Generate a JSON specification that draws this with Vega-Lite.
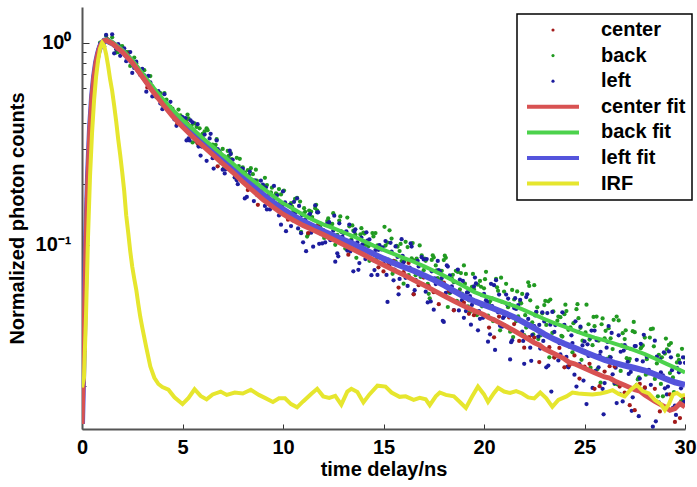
{
"$schema": "https://vega.github.io/schema/vega-lite/v6.json",
"width": 603, "height": 422, "autosize": {"type": "none"},
"padding": {"left": 82, "top": 7, "right": 12, "bottom": 58},
"background": "white",
"config": {"view": {"stroke": null},
 "axis": {"labelFont": "Liberation Sans", "labelFontWeight": "bold", "labelFontSize": 20, "labelColor": "#000", "titleFont": "Liberation Sans", "titleFontWeight": "bold", "titleFontSize": 20, "titleColor": "#000", "grid": false, "domainColor": "#555", "domainWidth": 2, "tickColor": "#333", "tickWidth": 1, "labelFlush": false, "labelOverlap": false, "labelBound": false}},
"datasets": {
"back": [{"t":0.1,"v":0.036},{"t":0.3,"v":0.21},{"t":0.5,"v":0.555},{"t":0.7,"v":0.79},{"t":0.9,"v":1.003},{"t":1.1,"v":1.002},{"t":1.3,"v":1.04},{"t":1.5,"v":1.066},{"t":1.7,"v":0.897},{"t":1.9,"v":0.963},{"t":2.1,"v":0.894},{"t":2.3,"v":0.901},{"t":2.5,"v":0.781},{"t":2.7,"v":0.792},{"t":2.9,"v":0.705},{"t":3.1,"v":0.733},{"t":3.3,"v":0.639},{"t":3.5,"v":0.61},{"t":3.7,"v":0.538},{"t":3.9,"v":0.565},{"t":4.1,"v":0.565},{"t":4.3,"v":0.478},{"t":4.5,"v":0.473},{"t":4.7,"v":0.422},{"t":4.9,"v":0.438},{"t":5.1,"v":0.406},{"t":5.3,"v":0.423},{"t":5.5,"v":0.322},{"t":5.7,"v":0.384},{"t":5.9,"v":0.332},{"t":6.1,"v":0.365},{"t":6.3,"v":0.3},{"t":6.5,"v":0.314},{"t":6.7,"v":0.334},{"t":6.9,"v":0.255},{"t":7.1,"v":0.274},{"t":7.3,"v":0.276},{"t":7.5,"v":0.245},{"t":7.7,"v":0.27},{"t":7.9,"v":0.215},{"t":8.1,"v":0.229},{"t":8.3,"v":0.191},{"t":8.5,"v":0.224},{"t":8.7,"v":0.208},{"t":8.9,"v":0.186},{"t":9.1,"v":0.215},{"t":9.3,"v":0.178},{"t":9.5,"v":0.158},{"t":9.7,"v":0.178},{"t":9.9,"v":0.178},{"t":10.1,"v":0.143},{"t":10.3,"v":0.157},{"t":10.5,"v":0.146},{"t":10.7,"v":0.171},{"t":10.9,"v":0.116},{"t":11.1,"v":0.146},{"t":11.3,"v":0.148},{"t":11.5,"v":0.123},{"t":11.7,"v":0.148},{"t":11.9,"v":0.127},{"t":12.1,"v":0.1093},{"t":12.3,"v":0.1262},{"t":12.5,"v":0.1436},{"t":12.7,"v":0.1123},{"t":12.9,"v":0.1167},{"t":13.1,"v":0.096},{"t":13.3,"v":0.1236},{"t":13.5,"v":0.1177},{"t":13.7,"v":0.0985},{"t":13.9,"v":0.121},{"t":14.1,"v":0.1002},{"t":14.3,"v":0.0835},{"t":14.5,"v":0.1102},{"t":14.7,"v":0.0995},{"t":14.9,"v":0.086},{"t":15.1,"v":0.0993},{"t":15.3,"v":0.1182},{"t":15.5,"v":0.0741},{"t":15.7,"v":0.0981},{"t":15.9,"v":0.0832},{"t":16.1,"v":0.1036},{"t":16.3,"v":0.0753},{"t":16.5,"v":0.0838},{"t":16.7,"v":0.0652},{"t":16.9,"v":0.0888},{"t":17.1,"v":0.0835},{"t":17.3,"v":0.0544},{"t":17.5,"v":0.0868},{"t":17.7,"v":0.0685},{"t":17.9,"v":0.0745},{"t":18.1,"v":0.0864},{"t":18.3,"v":0.0578},{"t":18.5,"v":0.0654},{"t":18.7,"v":0.0735},{"t":18.9,"v":0.0575},{"t":19.1,"v":0.0719},{"t":19.3,"v":0.0466},{"t":19.5,"v":0.0604},{"t":19.7,"v":0.0636},{"t":19.9,"v":0.0497},{"t":20.1,"v":0.0736},{"t":20.3,"v":0.0527},{"t":20.5,"v":0.0427},{"t":20.7,"v":0.0593},{"t":20.9,"v":0.0523},{"t":21.1,"v":0.0642},{"t":21.3,"v":0.0372},{"t":21.5,"v":0.0537},{"t":21.7,"v":0.0443},{"t":21.9,"v":0.0572},{"t":22.1,"v":0.039},{"t":22.3,"v":0.0532},{"t":22.5,"v":0.0632},{"t":22.7,"v":0.0342},{"t":22.9,"v":0.0459},{"t":23.1,"v":0.0402},{"t":23.3,"v":0.0537},{"t":23.5,"v":0.0278},{"t":23.7,"v":0.0442},{"t":23.9,"v":0.0352},{"t":24.1,"v":0.0471},{"t":24.3,"v":0.0391},{"t":24.5,"v":0.0305},{"t":24.7,"v":0.0434},{"t":24.9,"v":0.0336},{"t":25.1,"v":0.0506},{"t":25.3,"v":0.0247},{"t":25.5,"v":0.0396},{"t":25.7,"v":0.0336},{"t":25.9,"v":0.0433},{"t":26.1,"v":0.0273},{"t":26.3,"v":0.0345},{"t":26.5,"v":0.0205},{"t":26.7,"v":0.0423},{"t":26.9,"v":0.0366},{"t":27.1,"v":0.0275},{"t":27.3,"v":0.0306},{"t":27.5,"v":0.037},{"t":27.7,"v":0.0221},{"t":27.9,"v":0.0318},{"t":28.1,"v":0.0272},{"t":28.3,"v":0.0383},{"t":28.5,"v":0.0217},{"t":28.7,"v":0.0286},{"t":28.9,"v":0.0178},{"t":29.1,"v":0.0304},{"t":29.3,"v":0.0327},{"t":29.5,"v":0.0207},{"t":29.7,"v":0.027},{"t":29.9,"v":0.0172},
{"t":0.2,"v":0.11},{"t":0.4,"v":0.37},{"t":0.6,"v":0.69},{"t":0.8,"v":0.855},{"t":1.0,"v":1.006},{"t":1.2,"v":1.087},{"t":1.4,"v":0.996},{"t":1.6,"v":0.99},{"t":1.8,"v":0.902},{"t":2.0,"v":0.965},{"t":2.2,"v":0.9},{"t":2.4,"v":0.77},{"t":2.6,"v":0.847},{"t":2.8,"v":0.745},{"t":3.0,"v":0.733},{"t":3.2,"v":0.638},{"t":3.4,"v":0.686},{"t":3.6,"v":0.579},{"t":3.8,"v":0.57},{"t":4.0,"v":0.494},{"t":4.2,"v":0.525},{"t":4.4,"v":0.482},{"t":4.6,"v":0.443},{"t":4.8,"v":0.468},{"t":5.0,"v":0.396},{"t":5.2,"v":0.416},{"t":5.4,"v":0.375},{"t":5.6,"v":0.4},{"t":5.8,"v":0.311},{"t":6.0,"v":0.355},{"t":6.2,"v":0.378},{"t":6.4,"v":0.295},{"t":6.6,"v":0.306},{"t":6.8,"v":0.262},{"t":7.0,"v":0.299},{"t":7.2,"v":0.266},{"t":7.4,"v":0.285},{"t":7.6,"v":0.216},{"t":7.8,"v":0.246},{"t":8.0,"v":0.242},{"t":8.2,"v":0.207},{"t":8.4,"v":0.24},{"t":8.6,"v":0.198},{"t":8.8,"v":0.198},{"t":9.0,"v":0.171},{"t":9.2,"v":0.198},{"t":9.4,"v":0.182},{"t":9.6,"v":0.16},{"t":9.8,"v":0.189},{"t":10.0,"v":0.158},{"t":10.2,"v":0.138},{"t":10.4,"v":0.161},{"t":10.6,"v":0.169},{"t":10.8,"v":0.135},{"t":11.0,"v":0.143},{"t":11.2,"v":0.11},{"t":11.4,"v":0.1463},{"t":11.6,"v":0.152},{"t":11.8,"v":0.125},{"t":12.0,"v":0.1126},{"t":12.2,"v":0.1313},{"t":12.4,"v":0.1243},{"t":12.6,"v":0.1001},{"t":12.8,"v":0.132},{"t":13.0,"v":0.1067},{"t":13.2,"v":0.1366},{"t":13.4,"v":0.1065},{"t":13.6,"v":0.1128},{"t":13.8,"v":0.0928},{"t":14.0,"v":0.115},{"t":14.2,"v":0.102},{"t":14.4,"v":0.0915},{"t":14.6,"v":0.1146},{"t":14.8,"v":0.0954},{"t":15.0,"v":0.08},{"t":15.2,"v":0.1027},{"t":15.4,"v":0.1076},{"t":15.6,"v":0.0829},{"t":15.8,"v":0.0933},{"t":16.0,"v":0.0643},{"t":16.2,"v":0.0976},{"t":16.4,"v":0.0859},{"t":16.6,"v":0.0708},{"t":16.8,"v":0.0994},{"t":17.0,"v":0.075},{"t":17.2,"v":0.0642},{"t":17.4,"v":0.0843},{"t":17.6,"v":0.0792},{"t":17.8,"v":0.0656},{"t":18.0,"v":0.0842},{"t":18.2,"v":0.0493},{"t":18.4,"v":0.0682},{"t":18.6,"v":0.0745},{"t":18.8,"v":0.0602},{"t":19.0,"v":0.0792},{"t":19.2,"v":0.0496},{"t":19.4,"v":0.0621},{"t":19.6,"v":0.052},{"t":19.8,"v":0.0664},{"t":20.0,"v":0.061},{"t":20.2,"v":0.0447},{"t":20.4,"v":0.0544},{"t":20.6,"v":0.0679},{"t":20.8,"v":0.0378},{"t":21.0,"v":0.0588},{"t":21.2,"v":0.0492},{"t":21.4,"v":0.0599},{"t":21.6,"v":0.042},{"t":21.8,"v":0.0523},{"t":22.0,"v":0.0358},{"t":22.2,"v":0.0653},{"t":22.4,"v":0.0414},{"t":22.6,"v":0.0465},{"t":22.8,"v":0.0356},{"t":23.0,"v":0.0504},{"t":23.2,"v":0.0526},{"t":23.4,"v":0.0367},{"t":23.6,"v":0.0283},{"t":23.8,"v":0.0439},{"t":24.0,"v":0.0454},{"t":24.2,"v":0.038},{"t":24.4,"v":0.0294},{"t":24.6,"v":0.0481},{"t":24.8,"v":0.0389},{"t":25.0,"v":0.0299},{"t":25.2,"v":0.0405},{"t":25.4,"v":0.0319},{"t":25.6,"v":0.0442},{"t":25.8,"v":0.0208},{"t":26.0,"v":0.0345},{"t":26.2,"v":0.0387},{"t":26.4,"v":0.0305},{"t":26.6,"v":0.0442},{"t":26.8,"v":0.0238},{"t":27.0,"v":0.0342},{"t":27.2,"v":0.0266},{"t":27.4,"v":0.0374},{"t":27.6,"v":0.0203},{"t":27.8,"v":0.0308},{"t":28.0,"v":0.0348},{"t":28.2,"v":0.0231},{"t":28.4,"v":0.0385},{"t":28.6,"v":0.0259},{"t":28.8,"v":0.0205},{"t":29.0,"v":0.029},{"t":29.2,"v":0.032},{"t":29.4,"v":0.0221},{"t":29.6,"v":0.0262},{"t":29.8,"v":0.0168},{"t":30.0,"v":0.0277},
{"t":5.05,"v":0.397},{"t":5.25,"v":0.442},{"t":5.45,"v":0.39},{"t":5.65,"v":0.327},{"t":5.85,"v":0.378},{"t":6.05,"v":0.331},{"t":6.25,"v":0.37},{"t":6.45,"v":0.288},{"t":6.65,"v":0.313},{"t":6.85,"v":0.29},{"t":7.05,"v":0.239},{"t":7.25,"v":0.292},{"t":7.45,"v":0.266},{"t":7.65,"v":0.234},{"t":7.85,"v":0.267},{"t":8.05,"v":0.207},{"t":8.25,"v":0.235},{"t":8.45,"v":0.21},{"t":8.65,"v":0.236},{"t":8.85,"v":0.184},{"t":9.05,"v":0.196},{"t":9.25,"v":0.161},{"t":9.45,"v":0.192},{"t":9.65,"v":0.18},{"t":9.85,"v":0.161},{"t":10.05,"v":0.186},{"t":10.25,"v":0.138},{"t":10.45,"v":0.155},{"t":10.65,"v":0.136},{"t":10.85,"v":0.164},{"t":11.05,"v":0.152},{"t":11.25,"v":0.113},{"t":11.45,"v":0.1375},{"t":11.65,"v":0.158},{"t":11.85,"v":0.1222},{"t":12.05,"v":0.1084},{"t":12.25,"v":0.1354},{"t":12.45,"v":0.127},{"t":12.65,"v":0.1067},{"t":12.85,"v":0.1385},{"t":13.05,"v":0.1143},{"t":13.25,"v":0.1043},{"t":13.45,"v":0.1249},{"t":13.65,"v":0.0864},{"t":13.85,"v":0.1128},{"t":14.05,"v":0.1139},{"t":14.25,"v":0.0986},{"t":14.45,"v":0.1146},{"t":14.65,"v":0.0854},{"t":14.85,"v":0.0965},{"t":15.05,"v":0.123},{"t":15.25,"v":0.0845},{"t":15.45,"v":0.072},{"t":15.65,"v":0.099},{"t":15.85,"v":0.1012},{"t":16.05,"v":0.0837},{"t":16.25,"v":0.0709},{"t":16.45,"v":0.1022},{"t":16.65,"v":0.0855},{"t":16.85,"v":0.0694},{"t":17.05,"v":0.0856},{"t":17.25,"v":0.0573},{"t":17.45,"v":0.0889},{"t":17.65,"v":0.0748},{"t":17.85,"v":0.0667},{"t":18.05,"v":0.0885},{"t":18.25,"v":0.0586},{"t":18.45,"v":0.0712},{"t":18.65,"v":0.0528},{"t":18.85,"v":0.0726},{"t":19.05,"v":0.0643},{"t":19.25,"v":0.0532},{"t":19.45,"v":0.0719},{"t":19.65,"v":0.045},{"t":19.85,"v":0.0621},{"t":20.05,"v":0.0677},{"t":20.25,"v":0.051},{"t":20.45,"v":0.042},{"t":20.65,"v":0.0617},{"t":20.85,"v":0.0689},{"t":21.05,"v":0.045},{"t":21.25,"v":0.0511},{"t":21.45,"v":0.035},{"t":21.65,"v":0.0589},{"t":21.85,"v":0.0514},{"t":22.05,"v":0.0449},{"t":22.25,"v":0.0627},{"t":22.45,"v":0.0361},{"t":22.65,"v":0.0491},{"t":22.85,"v":0.0364},{"t":23.05,"v":0.0528},{"t":23.25,"v":0.0278},{"t":23.45,"v":0.0469},{"t":23.65,"v":0.0422},{"t":23.85,"v":0.0355},{"t":24.05,"v":0.0506},{"t":24.25,"v":0.0313},{"t":24.45,"v":0.041},{"t":24.65,"v":0.0509},{"t":24.85,"v":0.027},{"t":25.05,"v":0.0369},{"t":25.25,"v":0.034},{"t":25.45,"v":0.044},{"t":25.65,"v":0.0243},{"t":25.85,"v":0.0405},{"t":26.05,"v":0.0376},{"t":26.25,"v":0.0279},{"t":26.45,"v":0.0426},{"t":26.65,"v":0.0204},{"t":26.85,"v":0.0318},{"t":27.05,"v":0.0378},{"t":27.25,"v":0.0273},{"t":27.45,"v":0.0416},{"t":27.65,"v":0.0216},{"t":27.85,"v":0.0314},{"t":28.05,"v":0.0228},{"t":28.25,"v":0.0348},{"t":28.45,"v":0.0315},{"t":28.65,"v":0.0178},{"t":28.85,"v":0.0278},{"t":29.05,"v":0.0344},{"t":29.25,"v":0.0232},{"t":29.45,"v":0.0187},{"t":29.65,"v":0.0284},{"t":29.85,"v":0.0306}],
"left": [{"t":0,"v":0.0135},{"t":0.2,"v":0.11},{"t":0.4,"v":0.355},{"t":0.6,"v":0.685},{"t":0.8,"v":0.922},{"t":1.0,"v":0.968},{"t":1.2,"v":1.096},{"t":1.4,"v":1.006},{"t":1.6,"v":0.889},{"t":1.8,"v":0.987},{"t":2.0,"v":0.928},{"t":2.2,"v":0.812},{"t":2.4,"v":0.901},{"t":2.6,"v":0.752},{"t":2.8,"v":0.736},{"t":3.0,"v":0.744},{"t":3.2,"v":0.574},{"t":3.4,"v":0.638},{"t":3.6,"v":0.563},{"t":3.8,"v":0.577},{"t":4.0,"v":0.47},{"t":4.2,"v":0.498},{"t":4.4,"v":0.511},{"t":4.6,"v":0.418},{"t":4.8,"v":0.413},{"t":5.0,"v":0.43},{"t":5.2,"v":0.329},{"t":5.4,"v":0.414},{"t":5.6,"v":0.355},{"t":5.8,"v":0.307},{"t":6.0,"v":0.339},{"t":6.2,"v":0.261},{"t":6.4,"v":0.355},{"t":6.6,"v":0.276},{"t":6.8,"v":0.293},{"t":7.0,"v":0.236},{"t":7.2,"v":0.26},{"t":7.4,"v":0.282},{"t":7.6,"v":0.216},{"t":7.8,"v":0.219},{"t":8.0,"v":0.238},{"t":8.2,"v":0.173},{"t":8.4,"v":0.208},{"t":8.6,"v":0.209},{"t":8.8,"v":0.176},{"t":9.0,"v":0.199},{"t":9.2,"v":0.15},{"t":9.4,"v":0.166},{"t":9.6,"v":0.171},{"t":9.8,"v":0.14},{"t":10.0,"v":0.184},{"t":10.2,"v":0.142},{"t":10.4,"v":0.124},{"t":10.6,"v":0.144},{"t":10.8,"v":0.156},{"t":11.0,"v":0.103},{"t":11.2,"v":0.137},{"t":11.4,"v":0.115},{"t":11.6,"v":0.157},{"t":11.8,"v":0.1013},{"t":12.0,"v":0.1186},{"t":12.2,"v":0.1277},{"t":12.4,"v":0.1063},{"t":12.6,"v":0.0826},{"t":12.8,"v":0.1279},{"t":13.0,"v":0.1149},{"t":13.2,"v":0.0938},{"t":13.4,"v":0.1049},{"t":13.6,"v":0.1195},{"t":13.8,"v":0.0813},{"t":14.0,"v":0.0942},{"t":14.2,"v":0.1052},{"t":14.4,"v":0.0709},{"t":14.6,"v":0.0944},{"t":14.8,"v":0.0998},{"t":15.0,"v":0.081},{"t":15.2,"v":0.0522},{"t":15.4,"v":0.0927},{"t":15.6,"v":0.0983},{"t":15.8,"v":0.0679},{"t":16.0,"v":0.082},{"t":16.2,"v":0.0627},{"t":16.4,"v":0.0982},{"t":16.6,"v":0.0672},{"t":16.8,"v":0.0723},{"t":17.0,"v":0.0848},{"t":17.2,"v":0.0519},{"t":17.4,"v":0.074},{"t":17.6,"v":0.064},{"t":17.8,"v":0.0741},{"t":18.0,"v":0.0416},{"t":18.2,"v":0.0782},{"t":18.4,"v":0.0623},{"t":18.6,"v":0.0523},{"t":18.8,"v":0.0674},{"t":19.0,"v":0.0436},{"t":19.2,"v":0.0584},{"t":19.4,"v":0.0505},{"t":19.6,"v":0.0645},{"t":19.8,"v":0.0431},{"t":20.0,"v":0.0572},{"t":20.2,"v":0.0332},{"t":20.4,"v":0.0498},{"t":20.6,"v":0.0669},{"t":20.8,"v":0.0398},{"t":21.0,"v":0.0442},{"t":21.2,"v":0.0543},{"t":21.4,"v":0.0337},{"t":21.6,"v":0.0482},{"t":21.8,"v":0.0535},{"t":22.0,"v":0.0258},{"t":22.2,"v":0.043},{"t":22.4,"v":0.0358},{"t":22.6,"v":0.0467},{"t":22.8,"v":0.0307},{"t":23.0,"v":0.0418},{"t":23.2,"v":0.0253},{"t":23.4,"v":0.0466},{"t":23.6,"v":0.0338},{"t":23.8,"v":0.0287},{"t":24.0,"v":0.0402},{"t":24.2,"v":0.0248},{"t":24.4,"v":0.0327},{"t":24.6,"v":0.0199},{"t":24.8,"v":0.0394},{"t":25.0,"v":0.0333},{"t":25.2,"v":0.0282},{"t":25.4,"v":0.0196},{"t":25.6,"v":0.0338},{"t":25.8,"v":0.0296},{"t":26.0,"v":0.0207},{"t":26.2,"v":0.0397},{"t":26.4,"v":0.0229},{"t":26.6,"v":0.0165},{"t":26.8,"v":0.0296},{"t":27.0,"v":0.0319},{"t":27.2,"v":0.023},{"t":27.4,"v":0.0176},{"t":27.6,"v":0.027},{"t":27.8,"v":0.0324},{"t":28.0,"v":0.0196},{"t":28.2,"v":0.0241},{"t":28.4,"v":0.0126},{"t":28.6,"v":0.028},{"t":28.8,"v":0.0234},{"t":29.0,"v":0.0195},{"t":29.2,"v":0.0297},{"t":29.4,"v":0.0156},{"t":29.6,"v":0.0246},{"t":29.8,"v":0.0195},{"t":30.0,"v":0.0261},
{"t":0.1,"v":0.036},{"t":0.3,"v":0.21},{"t":0.5,"v":0.566},{"t":0.7,"v":0.794},{"t":0.9,"v":0.987},{"t":1.1,"v":0.964},{"t":1.3,"v":1.024},{"t":1.5,"v":1.104},{"t":1.7,"v":0.93},{"t":1.9,"v":0.864},{"t":2.1,"v":0.941},{"t":2.3,"v":0.864},{"t":2.5,"v":0.711},{"t":2.7,"v":0.808},{"t":2.9,"v":0.694},{"t":3.1,"v":0.692},{"t":3.3,"v":0.687},{"t":3.5,"v":0.544},{"t":3.7,"v":0.558},{"t":3.9,"v":0.502},{"t":4.1,"v":0.558},{"t":4.3,"v":0.463},{"t":4.5,"v":0.465},{"t":4.7,"v":0.389},{"t":4.9,"v":0.429},{"t":5.1,"v":0.398},{"t":5.3,"v":0.337},{"t":5.5,"v":0.405},{"t":5.7,"v":0.327},{"t":5.9,"v":0.277},{"t":6.1,"v":0.352},{"t":6.3,"v":0.316},{"t":6.5,"v":0.269},{"t":6.7,"v":0.329},{"t":6.9,"v":0.267},{"t":7.1,"v":0.226},{"t":7.3,"v":0.265},{"t":7.5,"v":0.264},{"t":7.7,"v":0.209},{"t":7.9,"v":0.228},{"t":8.1,"v":0.17},{"t":8.3,"v":0.222},{"t":8.5,"v":0.198},{"t":8.7,"v":0.177},{"t":8.9,"v":0.208},{"t":9.1,"v":0.156},{"t":9.3,"v":0.177},{"t":9.5,"v":0.16},{"t":9.7,"v":0.176},{"t":9.9,"v":0.126},{"t":10.1,"v":0.1625},{"t":10.3,"v":0.144},{"t":10.5,"v":0.1322},{"t":10.7,"v":0.1703},{"t":10.9,"v":0.1144},{"t":11.1,"v":0.1331},{"t":11.3,"v":0.1409},{"t":11.5,"v":0.098},{"t":11.7,"v":0.145},{"t":11.9,"v":0.1134},{"t":12.1,"v":0.1029},{"t":12.3,"v":0.1296},{"t":12.5,"v":0.1177},{"t":12.7,"v":0.0909},{"t":12.9,"v":0.1161},{"t":13.1,"v":0.1035},{"t":13.3,"v":0.1261},{"t":13.5,"v":0.0741},{"t":13.7,"v":0.1029},{"t":13.9,"v":0.1088},{"t":14.1,"v":0.0851},{"t":14.3,"v":0.1065},{"t":14.5,"v":0.084},{"t":14.7,"v":0.0711},{"t":14.9,"v":0.095},{"t":15.1,"v":0.1046},{"t":15.3,"v":0.0801},{"t":15.5,"v":0.0668},{"t":15.7,"v":0.0872},{"t":15.9,"v":0.1068},{"t":16.1,"v":0.0688},{"t":16.3,"v":0.0772},{"t":16.5,"v":0.0571},{"t":16.7,"v":0.0835},{"t":16.9,"v":0.087},{"t":17.1,"v":0.0587},{"t":17.3,"v":0.0686},{"t":17.5,"v":0.0478},{"t":17.7,"v":0.0833},{"t":17.9,"v":0.0686},{"t":18.1,"v":0.0579},{"t":18.3,"v":0.0707},{"t":18.5,"v":0.0476},{"t":18.7,"v":0.0755},{"t":18.9,"v":0.0533},{"t":19.1,"v":0.0471},{"t":19.3,"v":0.0558},{"t":19.5,"v":0.0623},{"t":19.7,"v":0.0378},{"t":19.9,"v":0.0564},{"t":20.1,"v":0.0533},{"t":20.3,"v":0.0361},{"t":20.5,"v":0.0632},{"t":20.7,"v":0.0464},{"t":20.9,"v":0.0394},{"t":21.1,"v":0.0568},{"t":21.3,"v":0.0271},{"t":21.5,"v":0.0487},{"t":21.7,"v":0.0503},{"t":21.9,"v":0.0372},{"t":22.1,"v":0.0552},{"t":22.3,"v":0.031},{"t":22.5,"v":0.0397},{"t":22.7,"v":0.0352},{"t":22.9,"v":0.0464},{"t":23.1,"v":0.0248},{"t":23.3,"v":0.0403},{"t":23.5,"v":0.0371},{"t":23.7,"v":0.0268},{"t":23.9,"v":0.0464},{"t":24.1,"v":0.0279},{"t":24.3,"v":0.0315},{"t":24.5,"v":0.0228},{"t":24.7,"v":0.0371},{"t":24.9,"v":0.0318},{"t":25.1,"v":0.0163},{"t":25.3,"v":0.0347},{"t":25.5,"v":0.0377},{"t":25.7,"v":0.0248},{"t":25.9,"v":0.0194},{"t":26.1,"v":0.031},{"t":26.3,"v":0.0278},{"t":26.5,"v":0.0207},{"t":26.7,"v":0.0357},{"t":26.9,"v":0.0168},{"t":27.1,"v":0.031},{"t":27.3,"v":0.0235},{"t":27.5,"v":0.0316},{"t":27.7,"v":0.0142},{"t":27.9,"v":0.0265},{"t":28.1,"v":0.028},{"t":28.3,"v":0.0203},{"t":28.5,"v":0.0336},{"t":28.7,"v":0.0166},{"t":28.9,"v":0.0226},{"t":29.1,"v":0.0182},{"t":29.3,"v":0.0278},{"t":29.5,"v":0.016},{"t":29.7,"v":0.0234},{"t":29.9,"v":0.0278},
{"t":5.15,"v":0.425},{"t":5.35,"v":0.329},{"t":5.55,"v":0.369},{"t":5.75,"v":0.396},{"t":5.95,"v":0.307},{"t":6.15,"v":0.314},{"t":6.35,"v":0.337},{"t":6.55,"v":0.239},{"t":6.75,"v":0.298},{"t":6.95,"v":0.275},{"t":7.15,"v":0.237},{"t":7.35,"v":0.293},{"t":7.55,"v":0.23},{"t":7.75,"v":0.2},{"t":7.95,"v":0.239},{"t":8.15,"v":0.212},{"t":8.35,"v":0.231},{"t":8.55,"v":0.165},{"t":8.75,"v":0.197},{"t":8.95,"v":0.176},{"t":9.15,"v":0.193},{"t":9.35,"v":0.15},{"t":9.55,"v":0.196},{"t":9.75,"v":0.148},{"t":9.95,"v":0.154},{"t":10.15,"v":0.117},{"t":10.35,"v":0.158},{"t":10.55,"v":0.1635},{"t":10.75,"v":0.1208},{"t":10.95,"v":0.1404},{"t":11.15,"v":0.0932},{"t":11.35,"v":0.1427},{"t":11.55,"v":0.1205},{"t":11.75,"v":0.145},{"t":11.95,"v":0.1018},{"t":12.15,"v":0.1256},{"t":12.35,"v":0.1057},{"t":12.55,"v":0.1396},{"t":12.75,"v":0.0879},{"t":12.95,"v":0.1101},{"t":13.15,"v":0.1168},{"t":13.35,"v":0.0929},{"t":13.55,"v":0.1166},{"t":13.75,"v":0.0753},{"t":13.95,"v":0.1007},{"t":14.15,"v":0.1155},{"t":14.35,"v":0.091},{"t":14.55,"v":0.0751},{"t":14.75,"v":0.0946},{"t":14.95,"v":0.0974},{"t":15.15,"v":0.0711},{"t":15.35,"v":0.1025},{"t":15.55,"v":0.0756},{"t":15.75,"v":0.057},{"t":15.95,"v":0.0884},{"t":16.15,"v":0.0771},{"t":16.35,"v":0.1017},{"t":16.55,"v":0.0597},{"t":16.75,"v":0.0783},{"t":16.95,"v":0.0638},{"t":17.15,"v":0.0852},{"t":17.35,"v":0.0525},{"t":17.55,"v":0.0684},{"t":17.75,"v":0.075},{"t":17.95,"v":0.0421},{"t":18.15,"v":0.0792},{"t":18.35,"v":0.0586},{"t":18.55,"v":0.0657},{"t":18.75,"v":0.0474},{"t":18.95,"v":0.0664},{"t":19.15,"v":0.058},{"t":19.35,"v":0.0403},{"t":19.55,"v":0.069},{"t":19.75,"v":0.0471},{"t":19.95,"v":0.0436},{"t":20.15,"v":0.0522},{"t":20.35,"v":0.0642},{"t":20.55,"v":0.0302},{"t":20.75,"v":0.0568},{"t":20.95,"v":0.0435},{"t":21.15,"v":0.0507},{"t":21.35,"v":0.033},{"t":21.55,"v":0.0545},{"t":21.75,"v":0.0428},{"t":21.95,"v":0.0335},{"t":22.15,"v":0.057},{"t":22.35,"v":0.0267},{"t":22.55,"v":0.0448},{"t":22.75,"v":0.0402},{"t":22.95,"v":0.0335},{"t":23.15,"v":0.046},{"t":23.35,"v":0.0188},{"t":23.55,"v":0.0401},{"t":23.75,"v":0.0327},{"t":23.95,"v":0.0399},{"t":24.15,"v":0.025},{"t":24.35,"v":0.0357},{"t":24.55,"v":0.0419},{"t":24.75,"v":0.0257},{"t":24.95,"v":0.0213},{"t":25.15,"v":0.0322},{"t":25.35,"v":0.0377},{"t":25.55,"v":0.0238},{"t":25.75,"v":0.0284},{"t":25.95,"v":0.0145},{"t":26.15,"v":0.0331},{"t":26.35,"v":0.0367},{"t":26.55,"v":0.0247},{"t":26.75,"v":0.0183},{"t":26.95,"v":0.03},{"t":27.15,"v":0.0264},{"t":27.35,"v":0.0151},{"t":27.55,"v":0.0316},{"t":27.75,"v":0.0218},{"t":27.95,"v":0.0359},{"t":28.15,"v":0.0182},{"t":28.35,"v":0.0233},{"t":28.55,"v":0.0134},{"t":28.75,"v":0.0271},{"t":28.95,"v":0.0294},{"t":29.15,"v":0.0199},{"t":29.35,"v":0.024},{"t":29.55,"v":0.0144},{"t":29.75,"v":0.0261},{"t":29.95,"v":0.0167}],
"center": [{"t":0.25,"v":0.17},{"t":0.75,"v":0.82},{"t":1.25,"v":1.044},{"t":1.75,"v":0.933},{"t":2.25,"v":0.885},{"t":2.75,"v":0.736},{"t":3.25,"v":0.602},{"t":3.75,"v":0.555},{"t":4.25,"v":0.468},{"t":4.75,"v":0.4},{"t":5.25,"v":0.399},{"t":5.75,"v":0.319},{"t":6.25,"v":0.304},{"t":6.75,"v":0.245},{"t":7.25,"v":0.244},{"t":7.75,"v":0.23},{"t":8.25,"v":0.187},{"t":8.75,"v":0.158},{"t":9.25,"v":0.173},{"t":9.75,"v":0.151},{"t":10.25,"v":0.1334},{"t":10.75,"v":0.1344},{"t":11.25,"v":0.1145},{"t":11.75,"v":0.126},{"t":12.25,"v":0.1088},{"t":12.75,"v":0.1072},{"t":13.25,"v":0.0895},{"t":13.75,"v":0.0923},{"t":14.25,"v":0.0927},{"t":14.75,"v":0.0775},{"t":15.25,"v":0.0804},{"t":15.75,"v":0.0615},{"t":16.25,"v":0.0815},{"t":16.75,"v":0.0632},{"t":17.25,"v":0.0626},{"t":17.75,"v":0.0509},{"t":18.25,"v":0.0593},{"t":18.75,"v":0.0585},{"t":19.25,"v":0.0456},{"t":19.75,"v":0.0462},{"t":20.25,"v":0.039},{"t":20.75,"v":0.0442},{"t":21.25,"v":0.0438},{"t":21.75,"v":0.0335},{"t":22.25,"v":0.035},{"t":22.75,"v":0.0263},{"t":23.25,"v":0.0312},{"t":23.75,"v":0.0309},{"t":24.25,"v":0.0254},{"t":24.75,"v":0.0218},{"t":25.25,"v":0.0258},{"t":25.75,"v":0.02},{"t":26.25,"v":0.0251},{"t":26.75,"v":0.0199},{"t":27.25,"v":0.0161},{"t":27.75,"v":0.0205},{"t":28.25,"v":0.0179},{"t":28.75,"v":0.015},{"t":29.25,"v":0.0182},{"t":29.75,"v":0.0139},{"t":15,"v":0.0739},{"t":15.5,"v":0.0835},{"t":16,"v":0.0733},{"t":16.5,"v":0.057},{"t":17,"v":0.069},{"t":17.5,"v":0.0584},{"t":18,"v":0.0651},{"t":18.5,"v":0.0475},{"t":19,"v":0.0518},{"t":19.5,"v":0.0449},{"t":20,"v":0.051},{"t":20.5,"v":0.0349},{"t":21,"v":0.0401},{"t":21.5,"v":0.0406},{"t":22,"v":0.031},{"t":22.5,"v":0.0348},{"t":23,"v":0.0358},{"t":23.5,"v":0.0277},{"t":24,"v":0.0248},{"t":24.5,"v":0.0284},{"t":25,"v":0.025},{"t":25.5,"v":0.0194},{"t":26,"v":0.0236},{"t":26.5,"v":0.025},{"t":27,"v":0.0186},{"t":27.5,"v":0.0152},{"t":28,"v":0.0197},{"t":28.5,"v":0.0194},{"t":29,"v":0.0156},{"t":29.5,"v":0.0133},{"t":30,"v":0.0176}],
"leftFit": [{"t":0,"v":0.013},{"t":0.1,"v":0.035},{"t":0.2,"v":0.1},{"t":0.3,"v":0.22},{"t":0.4,"v":0.38},{"t":0.5,"v":0.54},{"t":0.6,"v":0.68},{"t":0.7,"v":0.8},{"t":0.8,"v":0.89},{"t":0.9,"v":0.96},{"t":1.0,"v":1.0},{"t":1.1,"v":1.025},{"t":1.2,"v":1.03},{"t":1.5,"v":1.0},{"t":2,"v":0.91},{"t":2.5,"v":0.805},{"t":3,"v":0.69},{"t":3.5,"v":0.59},{"t":4,"v":0.51},{"t":4.5,"v":0.448},{"t":5,"v":0.398},{"t":5.5,"v":0.358},{"t":6,"v":0.323},{"t":6.5,"v":0.292},{"t":7,"v":0.265},{"t":7.5,"v":0.24},{"t":8,"v":0.216},{"t":8.5,"v":0.196},{"t":9,"v":0.178},{"t":9.5,"v":0.163},{"t":10,"v":0.15},{"t":10.5,"v":0.14},{"t":11,"v":0.131},{"t":11.5,"v":0.124},{"t":12,"v":0.117},{"t":12.5,"v":0.1115},{"t":13,"v":0.106},{"t":13.5,"v":0.101},{"t":14,"v":0.0955},{"t":14.5,"v":0.0903},{"t":15,"v":0.0856},{"t":15.5,"v":0.0815},{"t":16,"v":0.0778},{"t":16.5,"v":0.0745},{"t":17,"v":0.0708},{"t":17.5,"v":0.0672},{"t":18,"v":0.0632},{"t":18.5,"v":0.0593},{"t":19,"v":0.0556},{"t":19.5,"v":0.0528},{"t":20,"v":0.0505},{"t":20.5,"v":0.0483},{"t":21,"v":0.0462},{"t":21.5,"v":0.0439},{"t":22,"v":0.0413},{"t":22.5,"v":0.0388},{"t":23,"v":0.0362},{"t":23.5,"v":0.0341},{"t":24,"v":0.0324},{"t":24.5,"v":0.031},{"t":25,"v":0.0295},{"t":25.5,"v":0.0282},{"t":26,"v":0.027},{"t":26.5,"v":0.0261},{"t":27,"v":0.0253},{"t":27.5,"v":0.0246},{"t":28,"v":0.0239},{"t":28.5,"v":0.0229},{"t":29,"v":0.0218},{"t":29.5,"v":0.0209},{"t":30,"v":0.0203}],
"backFit": [{"t":0,"v":0.013},{"t":0.1,"v":0.035},{"t":0.2,"v":0.1},{"t":0.3,"v":0.22},{"t":0.4,"v":0.38},{"t":0.5,"v":0.54},{"t":0.6,"v":0.68},{"t":0.7,"v":0.8},{"t":0.8,"v":0.89},{"t":0.9,"v":0.96},{"t":1.0,"v":1.0},{"t":1.1,"v":1.03},{"t":1.2,"v":1.04},{"t":1.5,"v":1.01},{"t":2,"v":0.923},{"t":2.5,"v":0.822},{"t":3,"v":0.708},{"t":3.5,"v":0.61},{"t":4,"v":0.531},{"t":4.5,"v":0.468},{"t":5,"v":0.417},{"t":5.5,"v":0.376},{"t":6,"v":0.339},{"t":6.5,"v":0.307},{"t":7,"v":0.279},{"t":7.5,"v":0.253},{"t":8,"v":0.229},{"t":8.5,"v":0.209},{"t":9,"v":0.191},{"t":9.5,"v":0.175},{"t":10,"v":0.161},{"t":10.5,"v":0.151},{"t":11,"v":0.141},{"t":11.5,"v":0.133},{"t":12,"v":0.1265},{"t":12.5,"v":0.121},{"t":13,"v":0.1156},{"t":13.5,"v":0.1104},{"t":14,"v":0.1047},{"t":14.5,"v":0.0993},{"t":15,"v":0.0946},{"t":15.5,"v":0.0904},{"t":16,"v":0.0863},{"t":16.5,"v":0.0826},{"t":17,"v":0.0785},{"t":17.5,"v":0.0745},{"t":18,"v":0.0705},{"t":18.5,"v":0.0664},{"t":19,"v":0.0624},{"t":19.5,"v":0.0586},{"t":20,"v":0.056},{"t":20.5,"v":0.054},{"t":21,"v":0.0519},{"t":21.5,"v":0.0499},{"t":22,"v":0.0476},{"t":22.5,"v":0.0452},{"t":23,"v":0.043},{"t":23.5,"v":0.041},{"t":24,"v":0.0394},{"t":24.5,"v":0.0377},{"t":25,"v":0.0361},{"t":25.5,"v":0.0348},{"t":26,"v":0.0337},{"t":26.5,"v":0.0325},{"t":27,"v":0.0313},{"t":27.5,"v":0.0301},{"t":28,"v":0.0288},{"t":28.5,"v":0.0274},{"t":29,"v":0.026},{"t":29.5,"v":0.0247},{"t":30,"v":0.0234}],
"centerFit": [{"t":0,"v":0.013},{"t":0.1,"v":0.035},{"t":0.2,"v":0.1},{"t":0.3,"v":0.22},{"t":0.4,"v":0.38},{"t":0.5,"v":0.54},{"t":0.6,"v":0.68},{"t":0.7,"v":0.8},{"t":0.8,"v":0.89},{"t":0.9,"v":0.96},{"t":1.0,"v":1.0},{"t":1.1,"v":1.025},{"t":1.2,"v":1.03},{"t":1.5,"v":0.995},{"t":2,"v":0.905},{"t":2.5,"v":0.8},{"t":3,"v":0.68},{"t":3.5,"v":0.58},{"t":4,"v":0.5},{"t":4.5,"v":0.435},{"t":5,"v":0.385},{"t":5.5,"v":0.344},{"t":6,"v":0.31},{"t":6.5,"v":0.28},{"t":7,"v":0.253},{"t":7.5,"v":0.229},{"t":8,"v":0.205},{"t":8.5,"v":0.186},{"t":9,"v":0.168},{"t":9.5,"v":0.154},{"t":10,"v":0.142},{"t":10.5,"v":0.133},{"t":11,"v":0.125},{"t":11.5,"v":0.1187},{"t":12,"v":0.1125},{"t":12.5,"v":0.1065},{"t":13,"v":0.1005},{"t":13.5,"v":0.095},{"t":14,"v":0.0897},{"t":14.5,"v":0.0843},{"t":15,"v":0.0795},{"t":15.5,"v":0.0752},{"t":16,"v":0.0712},{"t":16.5,"v":0.0671},{"t":17,"v":0.0633},{"t":17.5,"v":0.0596},{"t":18,"v":0.0561},{"t":18.5,"v":0.0528},{"t":19,"v":0.0498},{"t":19.5,"v":0.0473},{"t":20,"v":0.0451},{"t":20.25,"v":0.0436},{"t":20.5,"v":0.0426},{"t":21,"v":0.0401},{"t":21.5,"v":0.0376},{"t":22,"v":0.0352},{"t":22.5,"v":0.0328},{"t":22.75,"v":0.032},{"t":23,"v":0.0306},{"t":23.5,"v":0.0289},{"t":24,"v":0.0273},{"t":24.25,"v":0.0262},{"t":24.5,"v":0.0258},{"t":25,"v":0.0245},{"t":25.5,"v":0.0233},{"t":26,"v":0.0222},{"t":26.25,"v":0.0219},{"t":26.5,"v":0.0212},{"t":27,"v":0.0202},{"t":27.5,"v":0.0192},{"t":27.75,"v":0.0189},{"t":28,"v":0.0181},{"t":28.5,"v":0.0168},{"t":29,"v":0.0158},{"t":29.25,"v":0.0152},{"t":29.5,"v":0.0155},{"t":29.75,"v":0.0164},{"t":30,"v":0.0158}],
"irf": [{"t":0,"v":0.0197},{"t":0.1,"v":0.022},{"t":0.2,"v":0.045},{"t":0.3,"v":0.11},{"t":0.4,"v":0.22},{"t":0.5,"v":0.36},{"t":0.6,"v":0.52},{"t":0.7,"v":0.68},{"t":0.8,"v":0.82},{"t":0.9,"v":0.94},{"t":1.0,"v":1.0},{"t":1.1,"v":0.97},{"t":1.2,"v":0.88},{"t":1.3,"v":0.77},{"t":1.4,"v":0.66},{"t":1.5,"v":0.58},{"t":1.6,"v":0.49},{"t":1.7,"v":0.41},{"t":1.8,"v":0.335},{"t":1.9,"v":0.28},{"t":2.0,"v":0.23},{"t":2.1,"v":0.185},{"t":2.2,"v":0.14},{"t":2.3,"v":0.115},{"t":2.4,"v":0.093},{"t":2.5,"v":0.078},{"t":2.6,"v":0.068},{"t":2.7,"v":0.06},{"t":2.8,"v":0.051},{"t":2.9,"v":0.044},{"t":3.0,"v":0.039},{"t":3.2,"v":0.031},{"t":3.4,"v":0.025},{"t":3.6,"v":0.022},{"t":3.8,"v":0.0205},{"t":4.0,"v":0.0198},{"t":4.3,"v":0.0192},{"t":4.6,"v":0.0176},{"t":5.0,"v":0.0163},{"t":5.3,"v":0.0175},{"t":5.6,"v":0.0193},{"t":5.9,"v":0.0179},{"t":6.2,"v":0.0172},{"t":6.5,"v":0.0182},{"t":6.9,"v":0.0188},{"t":7.2,"v":0.0181},{"t":7.6,"v":0.0186},{"t":8.0,"v":0.0184},{"t":8.4,"v":0.0192},{"t":8.8,"v":0.0181},{"t":9.1,"v":0.0175},{"t":9.5,"v":0.0167},{"t":9.8,"v":0.0174},{"t":10.1,"v":0.0174},{"t":10.4,"v":0.0163},{"t":10.7,"v":0.0157},{"t":11.0,"v":0.0168},{"t":11.4,"v":0.0183},{"t":11.7,"v":0.0194},{"t":12.0,"v":0.0178},{"t":12.3,"v":0.0175},{"t":12.6,"v":0.0179},{"t":12.9,"v":0.0162},{"t":13.2,"v":0.0188},{"t":13.4,"v":0.0194},{"t":13.7,"v":0.0187},{"t":14.0,"v":0.0166},{"t":14.3,"v":0.0182},{"t":14.7,"v":0.0201},{"t":15.1,"v":0.0199},{"t":15.4,"v":0.0186},{"t":15.8,"v":0.0177},{"t":16.1,"v":0.0178},{"t":16.5,"v":0.0171},{"t":16.8,"v":0.0175},{"t":17.1,"v":0.0172},{"t":17.3,"v":0.0161},{"t":17.6,"v":0.0178},{"t":17.8,"v":0.0186},{"t":18.1,"v":0.0181},{"t":18.5,"v":0.0178},{"t":18.8,"v":0.0167},{"t":19.1,"v":0.0156},{"t":19.4,"v":0.0177},{"t":19.7,"v":0.0199},{"t":20.0,"v":0.0182},{"t":20.2,"v":0.0167},{"t":20.5,"v":0.0185},{"t":20.7,"v":0.0196},{"t":21.0,"v":0.0188},{"t":21.3,"v":0.0185},{"t":21.6,"v":0.0189},{"t":21.9,"v":0.0184},{"t":22.2,"v":0.0176},{"t":22.5,"v":0.0174},{"t":22.8,"v":0.0186},{"t":23.1,"v":0.0174},{"t":23.4,"v":0.0158},{"t":23.7,"v":0.0171},{"t":24.1,"v":0.0178},{"t":24.4,"v":0.0186},{"t":24.7,"v":0.0184},{"t":25.0,"v":0.0183},{"t":25.4,"v":0.0182},{"t":25.8,"v":0.0184},{"t":26.1,"v":0.0187},{"t":26.4,"v":0.0191},{"t":26.7,"v":0.0183},{"t":27.0,"v":0.0178},{"t":27.3,"v":0.0192},{"t":27.6,"v":0.0203},{"t":27.9,"v":0.0189},{"t":28.2,"v":0.0184},{"t":28.5,"v":0.0171},{"t":28.8,"v":0.0163},{"t":29.0,"v":0.0152},{"t":29.2,"v":0.0163},{"t":29.4,"v":0.0182},{"t":29.6,"v":0.0185},{"t":29.8,"v":0.0179},{"t":30.0,"v":0.0181}]
},
"encoding": {
 "x": {"field": "t", "type": "quantitative", "scale": {"domain": [0, 30], "nice": false},
  "axis": {"title": "time delay/ns", "values": [0,5,10,15,20,25,30], "tickSize": -5, "labelPadding": 13, "titlePadding": 2}},
 "y": {"field": "v", "type": "quantitative", "scale": {"type": "log", "domain": [0.01227, 1.507], "nice": false},
  "axis": {"title": "Normalized photon counts", "values": [0.02,0.03,0.04,0.05,0.06,0.07,0.08,0.09,0.1,0.2,0.3,0.4,0.5,0.6,0.7,0.8,0.9,1],
   "labelExpr": "datum.value === 1 ? '10⁰' : (datum.value === 0.1 ? '10⁻¹' : '')",
   "tickSize": {"condition": {"test": "datum.value === 1 || datum.value === 0.1", "value": -7}, "value": -4},
   "labelPadding": 18, "titlePadding": 8}}
},
"layer": [
 {"data": {"name": "back"}, "mark": {"type": "circle", "size": 18, "opacity": 1, "clip": true},
  "encoding": {"color": {"datum": "back", "type": "nominal",
   "scale": {"domain": ["center","back","left","center fit","back fit","left fit","IRF"], "range": ["#a31a1a","#219a21","#1c1c9e","#d85252","#4cd24c","#5454dc","#e6e62e"]},
   "legend": {"title": null, "orient": "none", "legendX": 435, "legendY": 7, "padding": 6, "symbolOffset": 20, "labelOffset": 38,
    "symbolSize": 2704, "symbolType": "stroke", "symbolStrokeWidth": 4, "clipHeight": 20, "rowPadding": 5.6,
    "labelFont": "Liberation Sans", "labelFontWeight": "bold", "labelFontSize": 20, "labelColor": "#000",
    "strokeColor": "#000", "fillColor": "#fff",
    "encoding": {"legend": {"strokeWidth": {"value": 1.5}},
     "symbols": {
      "shape": {"value": {"signal": "indexof(['center','back','left'], datum.value) >= 0 ? 'circle' : 'stroke'"}},
      "size": {"value": {"signal": "indexof(['center','back','left'], datum.value) >= 0 ? 10 : 2704"}},
      "fill": {"value": {"signal": "indexof(['center','back','left'], datum.value) >= 0 ? scale('color', datum.value) : 'transparent'"}},
      "stroke": {"value": {"signal": "scale('color', datum.value)"}},
      "strokeWidth": {"value": {"signal": "indexof(['center','back','left'], datum.value) >= 0 ? 0 : 4"}},
      "opacity": {"value": 1}}}}}}},
 {"data": {"name": "left"}, "mark": {"type": "circle", "size": 18, "opacity": 1, "clip": true},
  "encoding": {"color": {"datum": "left", "type": "nominal"}}},
 {"data": {"name": "center"}, "mark": {"type": "circle", "size": 18, "opacity": 1, "clip": true},
  "encoding": {"color": {"datum": "center", "type": "nominal"}}},
 {"data": {"name": "leftFit"}, "mark": {"type": "line", "strokeWidth": 6, "clip": true},
  "encoding": {"color": {"datum": "left fit", "type": "nominal"}}},
 {"data": {"name": "backFit"}, "mark": {"type": "line", "strokeWidth": 4, "clip": true},
  "encoding": {"color": {"datum": "back fit", "type": "nominal"}}},
 {"data": {"name": "centerFit"}, "mark": {"type": "line", "strokeWidth": 5, "clip": true},
  "encoding": {"color": {"datum": "center fit", "type": "nominal"}}},
 {"data": {"name": "irf"}, "mark": {"type": "line", "strokeWidth": 4, "clip": true},
  "encoding": {"color": {"datum": "IRF", "type": "nominal"}}}
]
}
